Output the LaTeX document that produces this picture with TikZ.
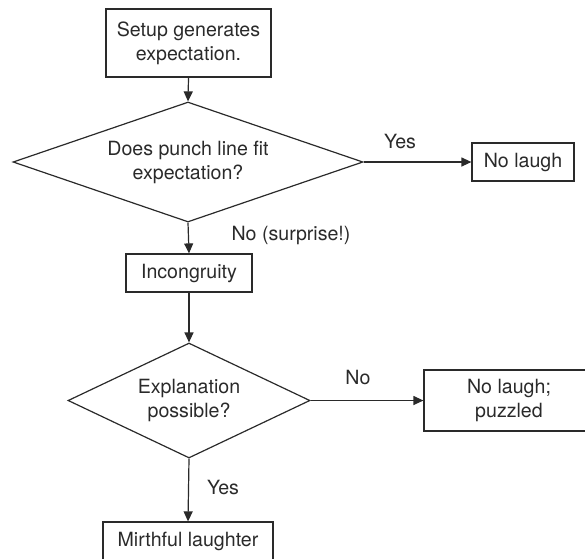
\documentclass[tikz,border=0pt]{standalone}
\usepackage{fontspec}
\setmainfont{TeX Gyre Heros}
\usetikzlibrary{shapes.geometric,arrows.meta}
\definecolor{ink}{HTML}{2A2A2A}
\tikzset{
  box/.style={draw=ink, line width=1.2pt, rectangle, inner sep=0pt, align=center, text=ink},
  decision/.style={draw=ink, line width=1.2pt, diamond, inner sep=0pt, align=center, text=ink},
  flow/.style={draw=ink, line width=1.2pt, -{Triangle[length=10pt,width=9pt]}},
  lbl/.style={text=ink, inner sep=0pt}
}
\begin{document}
\begin{tikzpicture}[x=1pt,y=-1pt,font=\fontsize{19.6}{24}\selectfont]
\useasboundingbox (0,0) rectangle (585,558);
\clip (0,0) rectangle (585,558);
\node[box, minimum width=165pt, minimum height=68pt] (setup) at (188.5,43) {Setup generates\\expectation.};
\node[decision, aspect=2.92, minimum width=350pt, minimum height=120pt] (d1) at (188,162) {Does punch line fit\\expectation?};
\node[box, minimum width=102pt, minimum height=38pt] (nolaugh) at (523,162) {No laugh};
\node[box, minimum width=126pt, minimum height=38pt] (incon) at (189,273) {Incongruity};
\node[decision, aspect=2.1, minimum width=242pt, minimum height=115pt] (d2) at (189,400.5) {Explanation\\possible?};
\node[box, minimum width=170pt, minimum height=61pt] (puzzled) at (509,400.5) {No laugh;\\puzzled};
\node[box, minimum width=170pt, minimum height=38pt] (mirth) at (188,541) {Mirthful laughter};
\node[lbl] (yes1) at (400,141) {Yes};
\node[lbl] (no1) at (291,235) {No (surprise!)};
\node[lbl] (no2) at (358,377) {No};
\node[lbl] (yes2) at (223,487) {Yes};
\draw[flow] (setup.south) -- (d1.north);
\draw[flow] (d1.east) -- (nolaugh.west);
\draw[flow] (d1.south) -- (incon.north);
\draw[flow] (incon.south) -- (d2.north);
\draw[flow] (d2.east) -- (puzzled.west);
\draw[flow] (d2.south) -- (mirth.north);
\end{tikzpicture}
\end{document}
